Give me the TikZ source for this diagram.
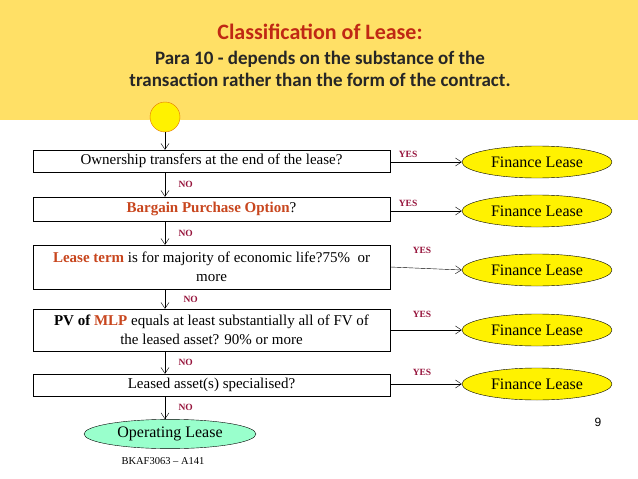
\documentclass[tikz,border=0pt]{standalone}
\usepackage{fontspec}
\setmainfont{Liberation Serif}
\newfontfamily\calfont{Carlito}
\newfontfamily\arialfont{Liberation Sans}
\usetikzlibrary{arrows.meta,shapes.geometric}
\definecolor{hdr}{RGB}{255,224,102}
\definecolor{ttl}{RGB}{192,40,20}
\definecolor{org}{RGB}{200,70,30}
\definecolor{lbl}{RGB}{150,20,60}
\definecolor{grn}{RGB}{153,255,204}
\begin{document}
\begin{tikzpicture}[x=1pt,y=-1pt,
 q/.style={draw,minimum width=357pt,inner sep=1pt,align=center,font=\fontsize{15}{19}\selectfont},
 fin/.style={draw,ellipse,fill=yellow,minimum width=150pt,minimum height=32pt,font=\fontsize{16}{18}\selectfont},
 lab/.style={text=lbl,font=\fontsize{9.5}{10}\selectfont\bfseries},
 ar/.style={-{Straight Barb[length=6pt,width=8pt]}}]
\useasboundingbox (0,0) rectangle (638,479);
\fill[hdr] (0,0) rectangle (638,120);
\node[text=ttl,font=\calfont\fontsize{22}{24}\selectfont\bfseries] (t) at (320,32) {Classification of Lease:};
\node[align=center,font=\calfont\fontsize{19}{22}\selectfont\bfseries,text=black!85] (p) at (320,69) {Para 10 - depends on the substance of the\\transaction rather than the form of the contract.};
\node[draw=orange!90!black,fill=yellow,circle,minimum size=30pt] (c) at (165,117) {};
\node[q,minimum height=22pt] (b1) at (211.5,161) {Ownership transfers at the end of the lease?};
\node[q,minimum height=24pt] (b2) at (211.5,209) {\textbf{\textcolor{org}{Bargain Purchase Option}}?};
\node[q,minimum height=44pt] (b3) at (211.5,267) {\textcolor{org}{\textbf{Lease term}} is for majority of economic life?75\%\ \ or\\more};
\node[q,minimum height=42pt] (b4) at (211.5,330) {\textbf{PV of \textcolor{org}{MLP}} equals at least substantially all of FV of\\the leased asset? 90\% or more};
\node[q,minimum height=22pt] (b5) at (211.5,385) {Leased asset(s) specialised?};
\node[draw,ellipse,fill=grn,minimum width=172pt,minimum height=26pt,font=\fontsize{16}{18}\selectfont] (op) at (170,434) {Operating Lease};
\node[fin] (f1) at (537,162) {Finance Lease};
\node[fin] (f2) at (537,211) {Finance Lease};
\node[fin] (f3) at (537,270) {Finance Lease};
\node[fin] (f4) at (537,330) {Finance Lease};
\node[fin] (f5) at (537,384) {Finance Lease};
\draw[ar] (c) -- (c|-b1.north);
\draw[ar] (b1.south-|c) -- (b2.north-|c) node[lab,midway,right=10pt] {NO};
\draw[ar] (b2.south-|c) -- (b3.north-|c) node[lab,midway,right=10pt] {NO};
\draw[ar] (b3.south-|c) -- (b4.north-|c) node[lab,midway,right=15pt] {NO};
\draw[ar] (b4.south-|c) -- (b5.north-|c) node[lab,midway,right=10pt] {NO};
\draw[ar] (b5.south-|c) -- (op.north-|c) node[lab,midway,right=10pt] {NO};
\draw[ar] (b1.east|-f1) -- (f1.west) node[lab,pos=0.25,above=1pt] {YES};
\draw[ar] (b2.east|-f2) -- (f2.west) node[lab,pos=0.25,above=1pt] {YES};
\draw[ar] (b3.east) -- (f3.west);
\node[lab] (y3) at (422,250) {YES};
\draw[ar] (b4.east|-f4) -- (f4.west);
\node[lab] (y4) at (422,314) {YES};
\draw[ar] (b5.east|-f5) -- (f5.west);
\node[lab] (y5) at (422,372) {YES};
\node[font=\arialfont\fontsize{12}{14}\selectfont] (n) at (598,422) {9};
\node[font=\fontsize{10.5}{12}\selectfont] (bk) at (163,461) {BKAF3063 -- A141};
\end{tikzpicture}
\end{document}
